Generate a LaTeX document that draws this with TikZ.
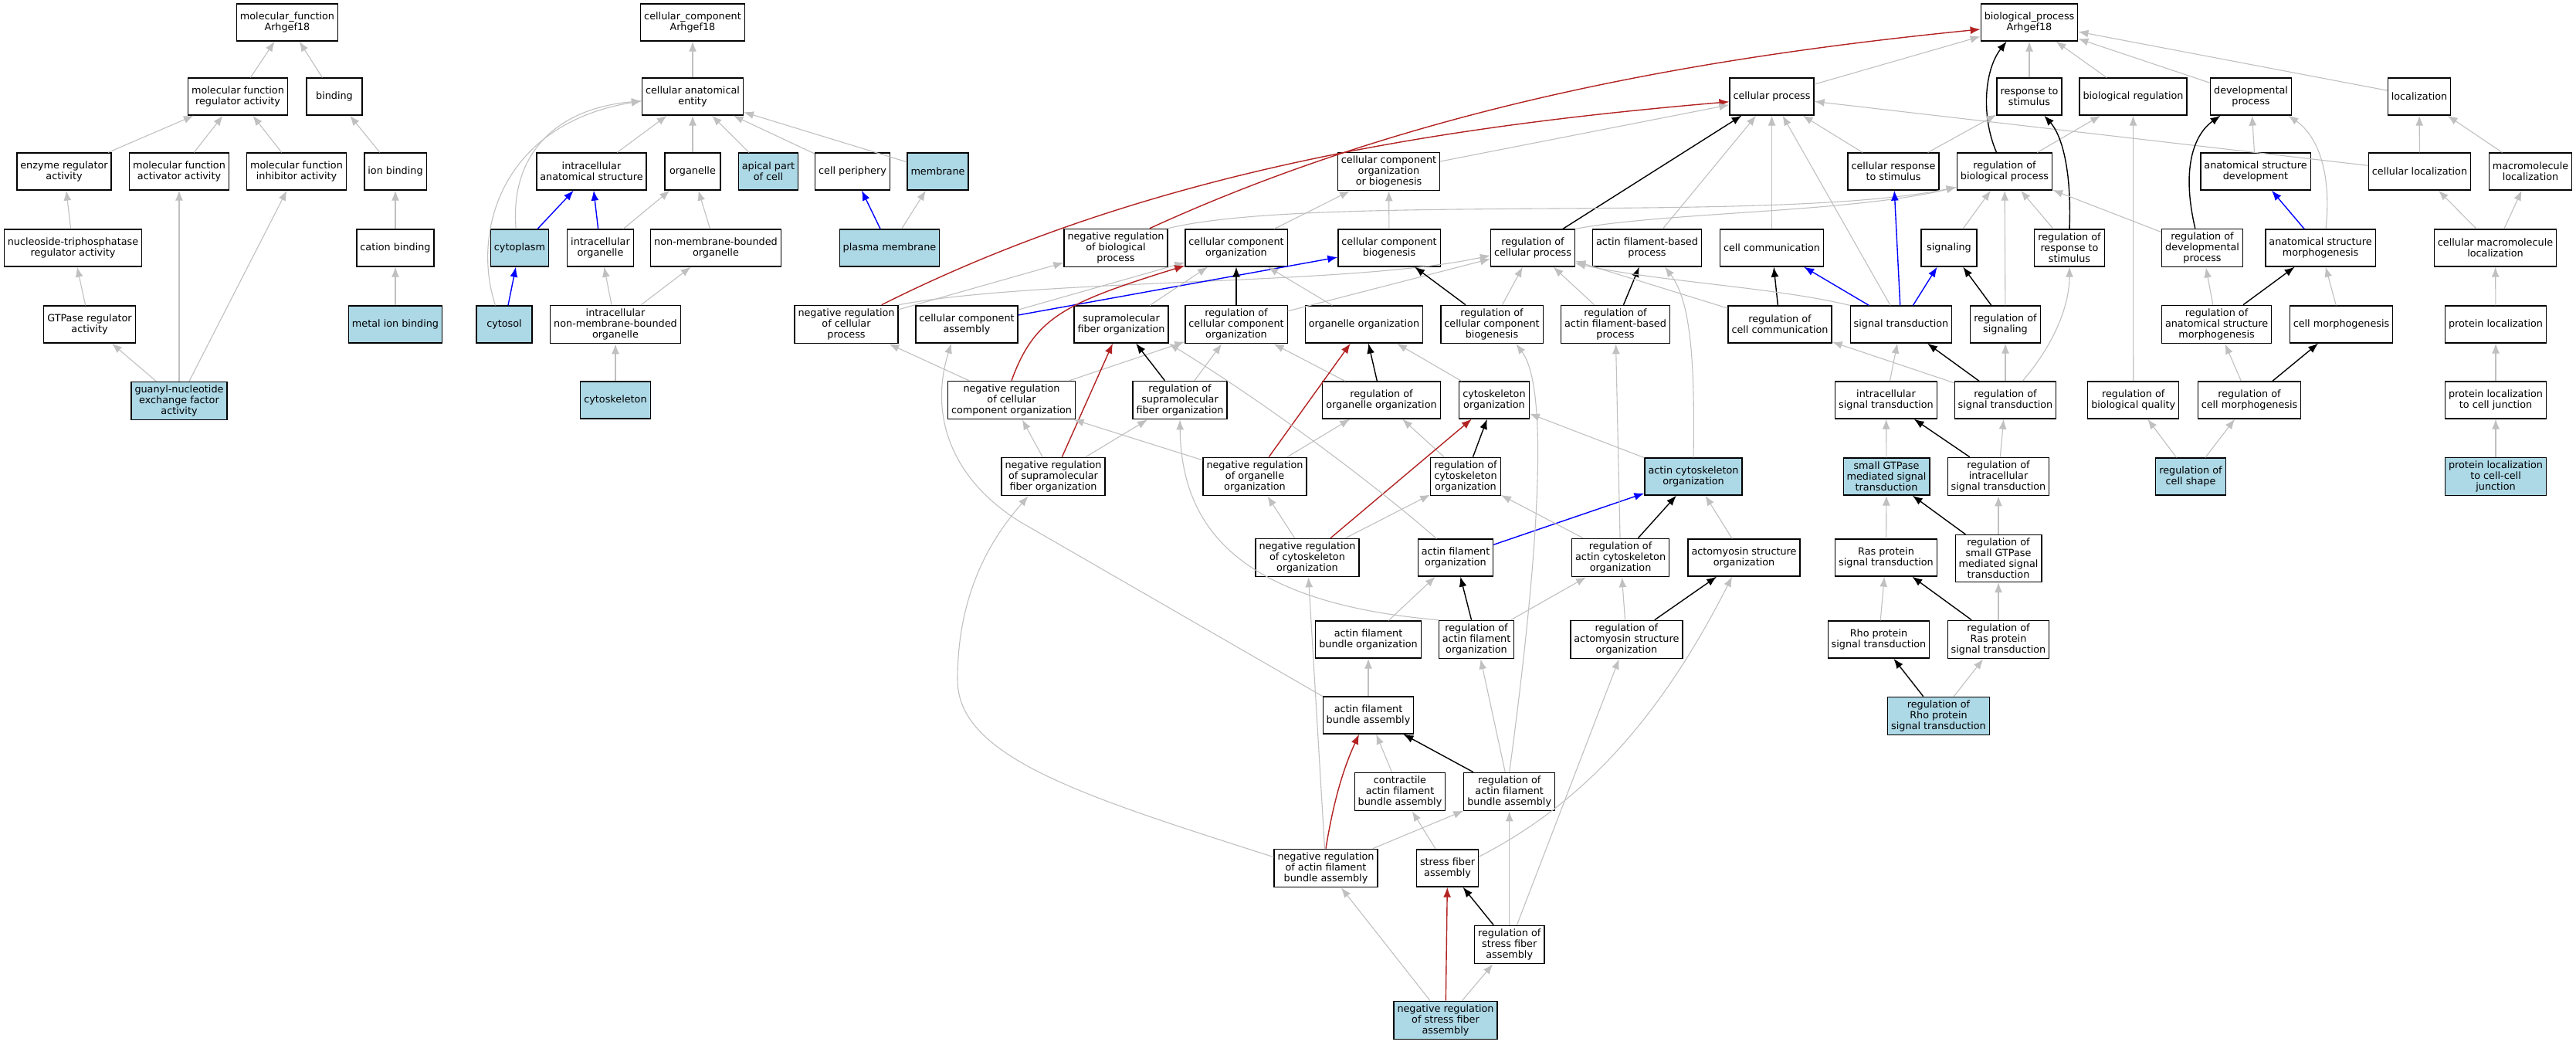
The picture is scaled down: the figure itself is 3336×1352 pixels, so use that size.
\documentclass[tikz,border=0pt]{standalone}
\usepackage{fontspec}
\setmainfont{DejaVu Sans}
\usetikzlibrary{arrows.meta}
\definecolor{hitblue}{HTML}{ADD8E6}
\definecolor{isagray}{HTML}{C0C0C0}
\definecolor{negred}{HTML}{B22222}
\begin{document}
\begin{tikzpicture}[x=0.2mm,y=-0.2mm]
  \tikzset{ term/.style={draw,line width=0.25mm,align=center,inner xsep=0.9mm,inner ysep=0.9mm,minimum width=14.4mm,minimum height=9.6mm,font=\fontsize{7.28}{7.97}\selectfont},
    hit/.style={term,fill=hitblue},
    isa/.style={isagray,line width=0.22mm,-{Latex[length=2.6mm,width=2mm]}},
    partof/.style={blue,line width=0.28mm,-{Latex[length=2.6mm,width=2mm]}},
    regul/.style={black,line width=0.28mm,-{Latex[length=2.6mm,width=2mm]}},
    negreg/.style={negred,line width=0.28mm,-{Latex[length=2.6mm,width=2mm]}},
  }
  \useasboundingbox (0,0) rectangle (3336,1352);

  % molecular function
  \node[term] (mfroot) at (372, 29) {molecular\_function\\Arhgef18};
  \node[term] (mfreg) at (308, 125) {molecular function\\regulator activity};
  \node[term] (binding) at (433, 125) {binding};
  \node[term] (enzreg) at (83, 222) {enzyme regulator\\activity};
  \node[term] (mfact) at (232, 222) {molecular function\\activator activity};
  \node[term] (mfinh) at (384, 222) {molecular function\\inhibitor activity};
  \node[term] (ionbind) at (512, 222) {ion binding};
  \node[term] (ntpreg) at (94.5, 321) {nucleoside-triphosphatase\\regulator activity};
  \node[term] (cation) at (512, 321) {cation binding};
  \node[term] (gtpreg) at (116, 420) {GTPase regulator\\activity};
  \node[hit] (metal) at (512, 420) {metal ion binding};
  \node[hit] (gef) at (232, 519) {guanyl-nucleotide\\exchange factor\\activity};

  % cellular component
  \node[term] (ccroot) at (897, 29) {cellular\_component\\Arhgef18};
  \node[term] (cae) at (897, 125) {cellular anatomical\\entity};
  \node[term] (ias) at (766, 222) {intracellular\\anatomical structure};
  \node[term] (organelle) at (897, 222) {organelle};
  \node[hit] (apical) at (995, 222) {apical part\\of cell};
  \node[term] (periph) at (1104, 222) {cell periphery};
  \node[hit] (membrane) at (1214.5, 222) {membrane};
  \node[hit] (cytoplasm) at (673, 321) {cytoplasm};
  \node[term] (iorg) at (777.5, 321) {intracellular\\organelle};
  \node[term] (nmbo) at (927, 321) {non-membrane-bounded\\organelle};
  \node[hit] (plasma) at (1152, 321) {plasma membrane};
  \node[hit] (cytosol) at (653, 420) {cytosol};
  \node[term] (inmbo) at (797, 420) {intracellular\\non-membrane-bounded\\organelle};
  \node[hit] (cytosk) at (797, 518) {cytoskeleton};

  % biological process
  \node[term] (bproot) at (2628, 29) {biological\_process\\Arhgef18};
  \node[term] (cellproc) at (2294.5, 125) {cellular process};
  \node[term] (respstim) at (2628, 125) {response to\\stimulus};
  \node[term] (bioreg) at (2762.5, 125) {biological regulation};
  \node[term] (devproc) at (2915, 125) {developmental\\process};
  \node[term] (loc) at (3133, 125) {localization};
  \node[term] (ccorgbio) at (1798.5, 222) {cellular component\\organization\\or biogenesis};
  \node[term] (cellresp) at (2452, 222) {cellular response\\to stimulus};
  \node[term] (regbio) at (2596, 222) {regulation of\\biological process};
  \node[term] (asdev) at (2921, 222) {anatomical structure\\development};
  \node[term] (cellloc) at (3133.5, 222) {cellular localization};
  \node[term] (macroloc) at (3277, 222) {macromolecule\\localization};
  \node[term] (negbio) at (1445, 321) {negative regulation\\of biological\\process};
  \node[term] (ccorg) at (1601, 321) {cellular component\\organization};
  \node[term] (ccbio) at (1799, 321) {cellular component\\biogenesis};
  \node[term] (regcell) at (1985, 321) {regulation of\\cellular process};
  \node[term] (afbp) at (2133, 321) {actin filament-based\\process};
  \node[term] (cellcomm) at (2294.5, 321) {cell communication};
  \node[term] (signaling) at (2524, 321) {signaling};
  \node[term] (regresp) at (2680, 321) {regulation of\\response to\\stimulus};
  \node[term] (regdev) at (2852, 321) {regulation of\\developmental\\process};
  \node[term] (asmorph) at (3005, 321) {anatomical structure\\morphogenesis};
  \node[term] (cmloc) at (3231.5, 321) {cellular macromolecule\\localization};
  \node[term] (negcell) at (1096, 420) {negative regulation\\of cellular\\process};
  \node[term] (ccasm) at (1252, 420) {cellular component\\assembly};
  \node[term] (supra) at (1452, 420) {supramolecular\\fiber organization};
  \node[term] (regccorg) at (1601, 420) {regulation of\\cellular component\\organization};
  \node[term] (orgorg) at (1766.5, 420) {organelle organization};
  \node[term] (regccbio) at (1932, 420) {regulation of\\cellular component\\biogenesis};
  \node[term] (regafbp) at (2092, 420) {regulation of\\actin filament-based\\process};
  \node[term] (regcomm) at (2305, 420) {regulation of\\cell communication};
  \node[term] (sigtrans) at (2462, 420) {signal transduction};
  \node[term] (regsig) at (2597, 420) {regulation of\\signaling};
  \node[term] (regasm) at (2870.6, 420) {regulation of\\anatomical structure\\morphogenesis};
  \node[term] (cellmorph) at (3032, 420) {cell morphogenesis};
  \node[term] (protloc) at (3232, 420) {protein localization};
  \node[term] (negccorg) at (1310, 518) {negative regulation\\of cellular\\component organization};
  \node[term] (regsupra) at (1528, 518) {regulation of\\supramolecular\\fiber organization};
  \node[term] (regorgorg) at (1789, 518) {regulation of\\organelle organization};
  \node[term] (cytoorg) at (1935, 518) {cytoskeleton\\organization};
  \node[term] (intrasig) at (2442.5, 518) {intracellular\\signal transduction};
  \node[term] (regsigtr) at (2597, 518) {regulation of\\signal transduction};
  \node[term] (regqual) at (2762.7, 518) {regulation of\\biological quality};
  \node[term] (regcmorph) at (2913, 518) {regulation of\\cell morphogenesis};
  \node[term] (protlocj) at (3232, 518) {protein localization\\to cell junction};
  \node[term] (negsupra) at (1364, 617) {negative regulation\\of supramolecular\\fiber organization};
  \node[term] (negorgorg) at (1625, 617) {negative regulation\\of organelle\\organization};
  \node[term] (regcyto) at (1898, 617) {regulation of\\cytoskeleton\\organization};
  \node[hit] (actcyto) at (2193, 617) {actin cytoskeleton\\organization};
  \node[hit] (smallgtp) at (2443, 617) {small GTPase\\mediated signal\\transduction};
  \node[term] (regintra) at (2588, 617) {regulation of\\intracellular\\signal transduction};
  \node[hit] (regshape) at (2837, 617) {regulation of\\cell shape};
  \node[hit] (protloccc) at (3232, 617) {protein localization\\to cell-cell\\junction};
  \node[term] (negcyto) at (1693, 722) {negative regulation\\of cytoskeleton\\organization};
  \node[term] (aforg) at (1885, 722) {actin filament\\organization};
  \node[term] (regactcyto) at (2098.6, 722) {regulation of\\actin cytoskeleton\\organization};
  \node[term] (actomyo) at (2258.5, 722) {actomyosin structure\\organization};
  \node[term] (ras) at (2442.5, 722) {Ras protein\\signal transduction};
  \node[term] (regsmall) at (2588, 723) {regulation of\\small GTPase\\mediated signal\\transduction};
  \node[term] (afbo) at (1772, 828) {actin filament\\bundle organization};
  \node[term] (regaf) at (1912, 828) {regulation of\\actin filament\\organization};
  \node[term] (regactomyo) at (2106.4, 828) {regulation of\\actomyosin structure\\organization};
  \node[term] (rho) at (2433, 828) {Rho protein\\signal transduction};
  \node[term] (regras) at (2588, 828) {regulation of\\Ras protein\\signal transduction};
  \node[term] (afba) at (1772, 926) {actin filament\\bundle assembly};
  \node[hit] (regrho) at (2510.5, 927) {regulation of\\Rho protein\\signal transduction};
  \node[term] (contr) at (1813, 1025) {contractile\\actin filament\\bundle assembly};
  \node[term] (regafba) at (1954.7, 1025) {regulation of\\actin filament\\bundle assembly};
  \node[term] (negafba) at (1717, 1124) {negative regulation\\of actin filament\\bundle assembly};
  \node[term] (stress) at (1874.6, 1124) {stress fiber\\assembly};
  \node[term] (regstress) at (1954.7, 1223) {regulation of\\stress fiber\\assembly};
  \node[hit] (negstress) at (1872, 1321) {negative regulation\\of stress fiber\\assembly};

  % the connections in molecular function
  \draw[isa] (mfreg) -- (mfroot);
  \draw[isa] (binding) -- (mfroot);
  \draw[isa] (enzreg) -- (mfreg);
  \draw[isa] (mfact) -- (mfreg);
  \draw[isa] (mfinh) -- (mfreg);
  \draw[isa] (ionbind) -- (binding);
  \draw[isa] (ntpreg) -- (enzreg);
  \draw[isa] (cation) -- (ionbind);
  \draw[isa] (gtpreg) -- (ntpreg);
  \draw[isa] (metal) -- (cation);
  \draw[isa] (gef) -- (gtpreg);
  \draw[isa] (gef) -- (mfact);
  \draw[isa] (gef) -- (mfinh);

  % the connections in cellular component
  \draw[isa] (cae) -- (ccroot);
  \draw[isa] (ias) -- (cae);
  \draw[isa] (organelle) -- (cae);
  \draw[isa] (apical) -- (cae);
  \draw[isa] (periph) -- (cae);
  \draw[isa] (membrane) -- (cae);
  \draw[isa] (cytoplasm.101) .. controls (660,200) and (720,140) .. (cae.185);
  \draw[isa] (cytosol.115) .. controls (610,300) and (650,160) .. (cae.185);
  \draw[partof] (cytoplasm) -- (ias);
  \draw[partof] (iorg) -- (ias);
  \draw[isa] (iorg) -- (organelle);
  \draw[isa] (nmbo) -- (organelle);
  \draw[partof] (cytosol) -- (cytoplasm);
  \draw[isa] (inmbo) -- (iorg);
  \draw[isa] (inmbo) -- (nmbo);
  \draw[isa] (cytosk) -- (inmbo);
  \draw[partof] (plasma) -- (periph);
  \draw[isa] (plasma) -- (membrane);

  % the connections in biological process
  \draw[isa] (cellproc) -- (bproot);
  \draw[isa] (respstim) -- (bproot);
  \draw[isa] (bioreg) -- (bproot);
  \draw[isa] (devproc) -- (bproot);
  \draw[isa] (loc) -- (bproot);
  \draw[negreg] (negbio.30) .. controls (1840,135) and (2214,73) .. (bproot.188);
  \draw[negreg] (negcell.29) .. controls (1480,225) and (1850,165) .. (cellproc.187);
  \draw[regul] (regbio.113) .. controls (2565,150) and (2570,90) .. (bproot.220);
  \draw[isa] (ccorgbio) -- (cellproc);
  \draw[isa] (cellresp) -- (cellproc);
  \draw[isa] (cellresp) -- (respstim);
  \draw[isa] (regbio) -- (bioreg);
  \draw[isa] (cellloc) -- (cellproc);
  \draw[isa] (cellloc) -- (loc);
  \draw[isa] (macroloc) -- (loc);
  \draw[isa] (asdev) -- (devproc);
  \draw[isa] (ccorg) -- (ccorgbio);
  \draw[isa] (ccbio) -- (ccorgbio);
  \draw[regul] (regcell) -- (cellproc);
  \draw[isa] (afbp) -- (cellproc);
  \draw[isa] (cellcomm) -- (cellproc);
  \draw[isa] (sigtrans) -- (cellproc);
  \draw[isa] (negbio.north east) .. controls (1700,250) and (2300,290) .. (regbio.198);
  \draw[isa] (regcell.north east) .. controls (2150,275) and (2400,275) .. (regbio.198);
  \draw[isa] (signaling) -- (regbio);
  \draw[isa] (regresp) -- (regbio);
  \draw[regul] (regresp.north) .. controls (2683,220) and (2670,175) .. (respstim.-52);
  \draw[isa] (regdev) -- (regbio);
  \draw[regul] (regdev.110) .. controls (2825,220) and (2840,175) .. (devproc.212);
  \draw[partof] (asmorph) -- (asdev);
  \draw[isa] (asmorph.74) .. controls (3020,220) and (3000,175) .. (devproc.-27);
  \draw[isa] (cmloc) -- (cellloc);
  \draw[isa] (cmloc) -- (macroloc);
  \draw[isa] (negcell) -- (negbio);
  \draw[isa] (negcell.north east) .. controls (1350,360) and (1750,370) .. (regcell.190);
  \draw[partof] (ccasm) -- (ccbio);
  \draw[isa] (ccasm) -- (ccorg);
  \draw[isa] (supra) -- (ccorg);
  \draw[regul] (regccorg) -- (ccorg);
  \draw[isa] (regccorg) -- (regcell);
  \draw[isa] (orgorg) -- (ccorg);
  \draw[regul] (regccbio) -- (ccbio);
  \draw[isa] (regccbio) -- (regcell);
  \draw[regul] (regafbp) -- (afbp);
  \draw[isa] (regafbp) -- (regcell);
  \draw[regul] (regcomm) -- (cellcomm);
  \draw[isa] (regcomm) -- (regcell);
  \draw[partof] (sigtrans) -- (cellcomm);
  \draw[partof] (sigtrans) -- (cellresp);
  \draw[partof] (sigtrans) -- (signaling);
  \draw[isa] (sigtrans.north west) .. controls (2300,372) and (2150,365) .. (regcell.-20);
  \draw[regul] (regsig) -- (signaling);
  \draw[isa] (regsig) -- (regbio);
  \draw[isa] (regasm) -- (regdev);
  \draw[regul] (regasm) -- (asmorph);
  \draw[isa] (cellmorph) -- (asmorph);
  \draw[isa] (protloc) -- (cmloc);
  \draw[isa] (negccorg) -- (negcell);
  \draw[negreg] (negccorg.north) .. controls (1340,410) and (1380,392) .. (ccorg.199);
  \draw[isa] (negccorg) -- (regccorg);
  \draw[regul] (regsupra) -- (supra);
  \draw[isa] (regsupra) -- (regccorg);
  \draw[regul] (regorgorg) -- (orgorg);
  \draw[isa] (regorgorg) -- (regccorg);
  \draw[isa] (cytoorg) -- (orgorg);
  \draw[isa] (intrasig) -- (sigtrans);
  \draw[regul] (regsigtr) -- (sigtrans);
  \draw[isa] (regsigtr) -- (regsig);
  \draw[isa] (regsigtr) -- (regcomm);
  \draw[isa] (regsigtr.48) .. controls (2665,440) and (2680,390) .. (regresp.south);
  \draw[isa] (regqual) -- (bioreg);
  \draw[isa] (regcmorph) -- (regasm);
  \draw[regul] (regcmorph) -- (cellmorph);
  \draw[isa] (protlocj) -- (protloc);
  \draw[isa] (negsupra) -- (negccorg);
  \draw[negreg] (negsupra) -- (supra);
  \draw[isa] (negsupra) -- (regsupra);
  \draw[isa] (negorgorg) -- (negccorg);
  \draw[negreg] (negorgorg) -- (orgorg);
  \draw[isa] (negorgorg) -- (regorgorg);
  \draw[regul] (regcyto) -- (cytoorg);
  \draw[isa] (regcyto) -- (regorgorg);
  \draw[isa] (actcyto) -- (cytoorg);
  \draw[isa] (actcyto.north) .. controls (2195,470) and (2190,390) .. (afbp.-47);
  \draw[isa] (smallgtp) -- (intrasig);
  \draw[regul] (regintra) -- (intrasig);
  \draw[isa] (regintra) -- (regsigtr);
  \draw[isa] (regshape) -- (regqual);
  \draw[isa] (regshape) -- (regcmorph);
  \draw[isa] (protloccc) -- (protlocj);
  \draw[isa] (negcyto) -- (negorgorg);
  \draw[negreg] (negcyto) -- (cytoorg);
  \draw[isa] (negcyto) -- (regcyto);
  \draw[partof] (aforg) -- (actcyto);
  \draw[isa] (aforg.135) .. controls (1760,610) and (1620,510) .. (supra.south east);
  \draw[regul] (regactcyto) -- (actcyto);
  \draw[isa] (regactcyto) -- (regcyto);
  \draw[isa] (regactcyto) -- (regafbp);
  \draw[isa] (actomyo) -- (actcyto);
  \draw[isa] (ras) -- (smallgtp);
  \draw[regul] (regsmall) -- (smallgtp);
  \draw[isa] (regsmall) -- (regintra);
  \draw[isa] (afbo) -- (aforg);
  \draw[regul] (regaf) -- (aforg);
  \draw[isa] (regaf) -- (regactcyto);
  \draw[isa] (regaf.north west) .. controls (1600,780) and (1530,680) .. (regsupra.south);
  \draw[regul] (regactomyo) -- (actomyo);
  \draw[isa] (regactomyo) -- (regactcyto);
  \draw[isa] (rho) -- (ras);
  \draw[regul] (regras) -- (ras);
  \draw[isa] (regras) -- (regsmall);
  \draw[isa] (afba) -- (afbo);
  \draw[isa] (afba.north west) -- (1320,675) .. controls (1225,615) and (1205,530) .. (ccasm.231);
  \draw[regul] (regrho) -- (rho);
  \draw[isa] (regrho) -- (regras);
  \draw[isa] (contr) -- (afba);
  \draw[regul] (regafba) -- (afba);
  \draw[isa] (regafba) -- (regaf);
  \draw[isa] (regafba.north) .. controls (1995,700) and (2005,500) .. (regccbio.-39);
  \draw[negreg] (negafba.north) .. controls (1728,1030) and (1742,990) .. (afba.244);
  \draw[isa] (negafba) -- (regafba);
  \draw[isa] (negafba) -- (negcyto);
  \draw[isa] (negafba.168) .. controls (1400,1030) and (1240,980) .. (1240,880) .. controls (1240,760) and (1290,690) .. (negsupra.218);
  \draw[isa] (stress) -- (contr);
  \draw[isa] (stress.20) .. controls (2050,1040) and (2150,930) .. (actomyo.238);
  \draw[regul] (regstress) -- (stress);
  \draw[isa] (regstress) -- (regafba);
  \draw[isa] (regstress) -- (regactomyo);
  \draw[negreg] (negstress) -- (stress);
  \draw[isa] (negstress) -- (negafba);
  \draw[isa] (negstress) -- (regstress);
\end{tikzpicture}
\end{document}
